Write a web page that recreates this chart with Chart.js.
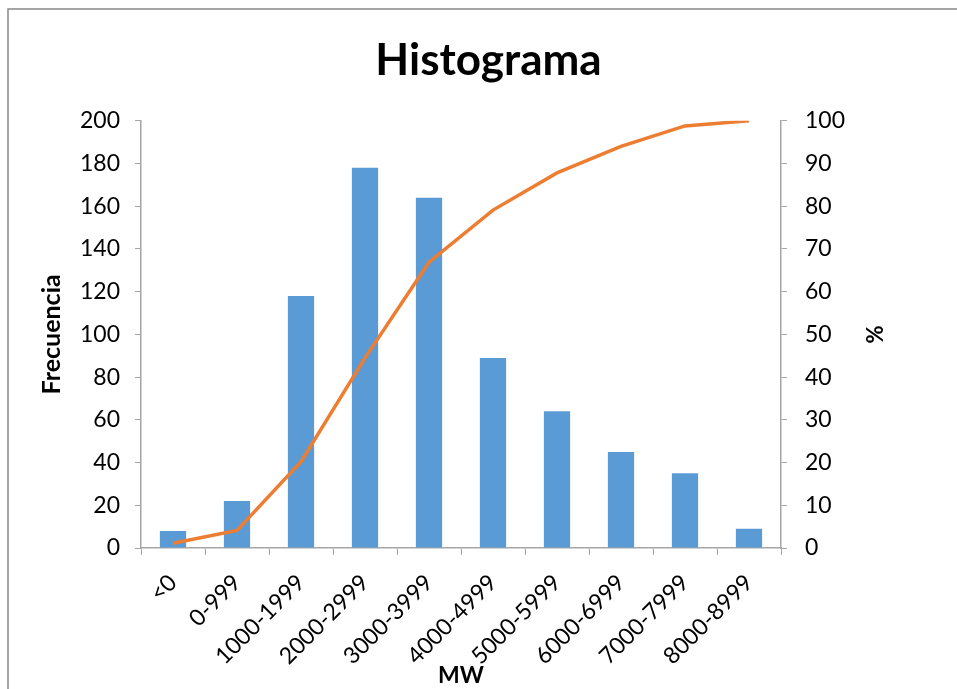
<!DOCTYPE html>
<html>
<head>
<meta charset="utf-8">
<script src="https://cdn.jsdelivr.net/npm/chart.js@4"></script>
<style>
  html, body { margin: 0; padding: 0; background: #fff; overflow: hidden; }
  #outer { width: 957px; height: 689px; overflow: hidden; }
  #wrap { width: 977px; height: 689px; position: relative; }
</style>
</head>
<body>
<div id="outer"><div id="wrap"><canvas id="histChart"></canvas></div></div>
<script>
// rangos de MW
const categorias = ["<0", "0-999", "1000-1999", "2000-2999", "3000-3999", "4000-4999", "5000-5999", "6000-6999", "7000-7999", "8000-8999"];
// frecuencia por rango
const frecuencia = [8, 22, 118, 178, 164, 89, 64, 45, 35, 9];
// % acumulado
const acumulado = [1.1, 4.1, 20.2, 44.5, 66.9, 79.1, 87.8, 94.0, 98.8, 100];

const fuente = "Lato, 'Open Sans', sans-serif";
const gris = "#A6A6A6";

// marco del gráfico (como en Excel, el borde sigue fuera de la imagen)
const marco = {
  id: "marco",
  beforeDraw(chart) {
    const c = chart.ctx;
    c.save();
    c.fillStyle = "#fff";
    c.fillRect(0, 0, chart.width, chart.height);
    c.strokeStyle = "#888";
    c.lineWidth = 1.5;
    c.strokeRect(8, 9, chart.width + 20, chart.height + 20);
    c.restore();
  }
};

const ctx = document.getElementById("histChart").getContext("2d");
const chart = new Chart(ctx, {
  type: "bar",
  data: {
    labels: categorias,
    datasets: [
      {
        type: "line",
        label: "%",
        data: acumulado,
        yAxisID: "y1",
        borderColor: "#ED7D31",
        borderWidth: 3.5,
        pointRadius: 0,
        tension: 0,
        order: 0
      },
      {
        type: "bar",
        label: "Frecuencia",
        data: frecuencia,
        yAxisID: "y",
        backgroundColor: "#5B9BD5",
        categoryPercentage: 1,
        barPercentage: 0.41,
        order: 1
      }
    ]
  },
  options: {
    responsive: true,
    maintainAspectRatio: false,
    animation: false,
    layout: { padding: { left: 0, right: 0, top: 0, bottom: 0 } },
    plugins: {
      legend: { display: false },
      tooltip: { enabled: false },
      title: {
        display: true,
        text: "Histograma",
        color: "#000",
        font: { family: fuente, size: 44, weight: "bold" },
        padding: { top: 34, bottom: 34 }
      }
    },
    scales: {
      x: {
        grid: { drawOnChartArea: false, drawTicks: true, tickLength: 7, color: gris, offset: true },
        border: { color: gris, width: 1.5 },
        ticks: {
          color: "#000",
          font: { family: fuente, size: 23 },
          minRotation: 45,
          maxRotation: 45,
          autoSkip: false,
          padding: 14
        },
        title: {
          display: true,
          text: "MW",
          color: "#000",
          font: { family: fuente, size: 23, weight: "bold" },
          padding: { top: 0, bottom: 0 }
        },
        afterFit(scale) { scale.height = 141; }
      },
      y: {
        position: "left",
        min: 0,
        max: 200,
        grid: { drawOnChartArea: false, drawTicks: true, tickLength: 6, color: gris },
        border: { color: gris, width: 1.5 },
        ticks: {
          stepSize: 20,
          color: "#000",
          font: { family: fuente, size: 23 },
          padding: 15
        },
        title: {
          display: true,
          text: "Frecuencia",
          color: "#000",
          font: { family: fuente, size: 25, weight: "bold" },
          padding: { top: 37, bottom: 0 }
        },
        afterFit(scale) { scale.width = 141; }
      },
      y1: {
        position: "right",
        min: 0,
        max: 100,
        grid: { drawOnChartArea: false, drawTicks: true, tickLength: 6, color: gris },
        border: { color: gris, width: 1.5 },
        ticks: {
          stepSize: 10,
          color: "#000",
          font: { family: fuente, size: 23 },
          padding: 18
        },
        title: {
          display: true,
          text: "%",
          color: "#000",
          font: { family: fuente, size: 22, weight: "bold" },
          padding: { top: 91, bottom: 0 }
        },
        afterFit(scale) { scale.width = 196; }
      }
    }
  },
  plugins: [marco]
});
</script>
</body>
</html>
